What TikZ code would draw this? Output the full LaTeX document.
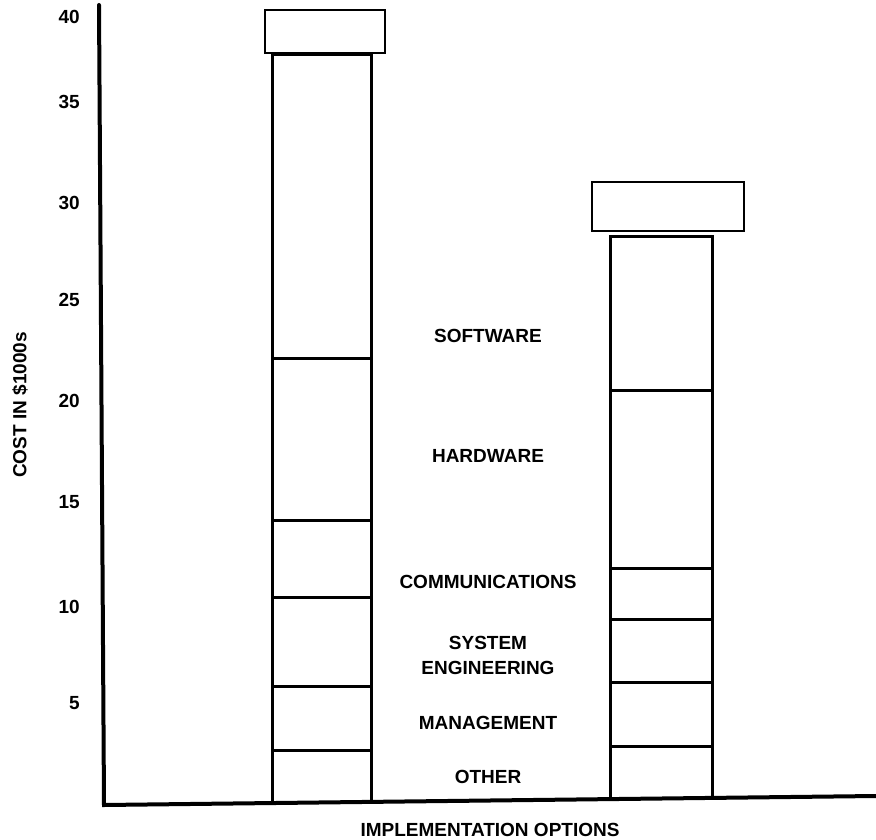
\documentclass[tikz,border=0pt]{standalone}
\usepackage{fontspec}
\setmainfont{Liberation Sans}
\begin{document}
\begin{tikzpicture}[x=1pt,y=-1pt,
  axisline/.style={line width=4pt,line cap=round},
  barline/.style={line width=3pt},
  capline/.style={line width=2.5pt},
  lbl/.style={font=\fontsize{19}{21}\selectfont\bfseries,inner sep=0pt,align=center},
  tick/.style={font=\fontsize{19}{21}\selectfont\bfseries,inner sep=0pt,anchor=east}]
\useasboundingbox (0,0) rectangle (876,840);
% axes
\coordinate (ytop) at (99,5);
\coordinate (orig) at (104,805);
\coordinate (xend) at (876,796);
\draw[axisline] (ytop) -- (orig) -- (xend);
% tick labels
\node[tick] (t40) at (80,17) {40};
\node[tick] (t35) at (80,102) {35};
\node[tick] (t30) at (80,203) {30};
\node[tick] (t25) at (80,300) {25};
\node[tick] (t20) at (80,401) {20};
\node[tick] (t15) at (80,502) {15};
\node[tick] (t10) at (80,607) {10};
\node[tick] (t5) at (80,703) {5};
\node[lbl,rotate=90] (ylab) at (20,405) {COST IN \$1000s};
\node[lbl] (xlab) at (490,830) {IMPLEMENTATION OPTIONS};
% left bar
\draw[capline] (265,10) rectangle (385,53);
\draw[barline] (272,803) -- (272,55) -- (371,55) -- (371,803);
\foreach \yy in {358,520,597,686,750} \draw[barline] (272,\yy) -- (371,\yy);
% right bar
\draw[capline] (592,182) rectangle (744,231);
\draw[barline] (610,798) -- (610,236) -- (712,236) -- (712,798);
\foreach \yy in {390,568,619,682,746} \draw[barline] (610,\yy) -- (712,\yy);
% category labels
\node[lbl] (sw) at (488,336) {SOFTWARE};
\node[lbl] (hw) at (488,456) {HARDWARE};
\node[lbl] (com) at (488,582) {COMMUNICATIONS};
\node[lbl] (se) at (488,655) {SYSTEM\\[4pt]ENGINEERING};
\node[lbl] (mg) at (488,723) {MANAGEMENT};
\node[lbl] (ot) at (488,777) {OTHER};
\end{tikzpicture}
\end{document}
